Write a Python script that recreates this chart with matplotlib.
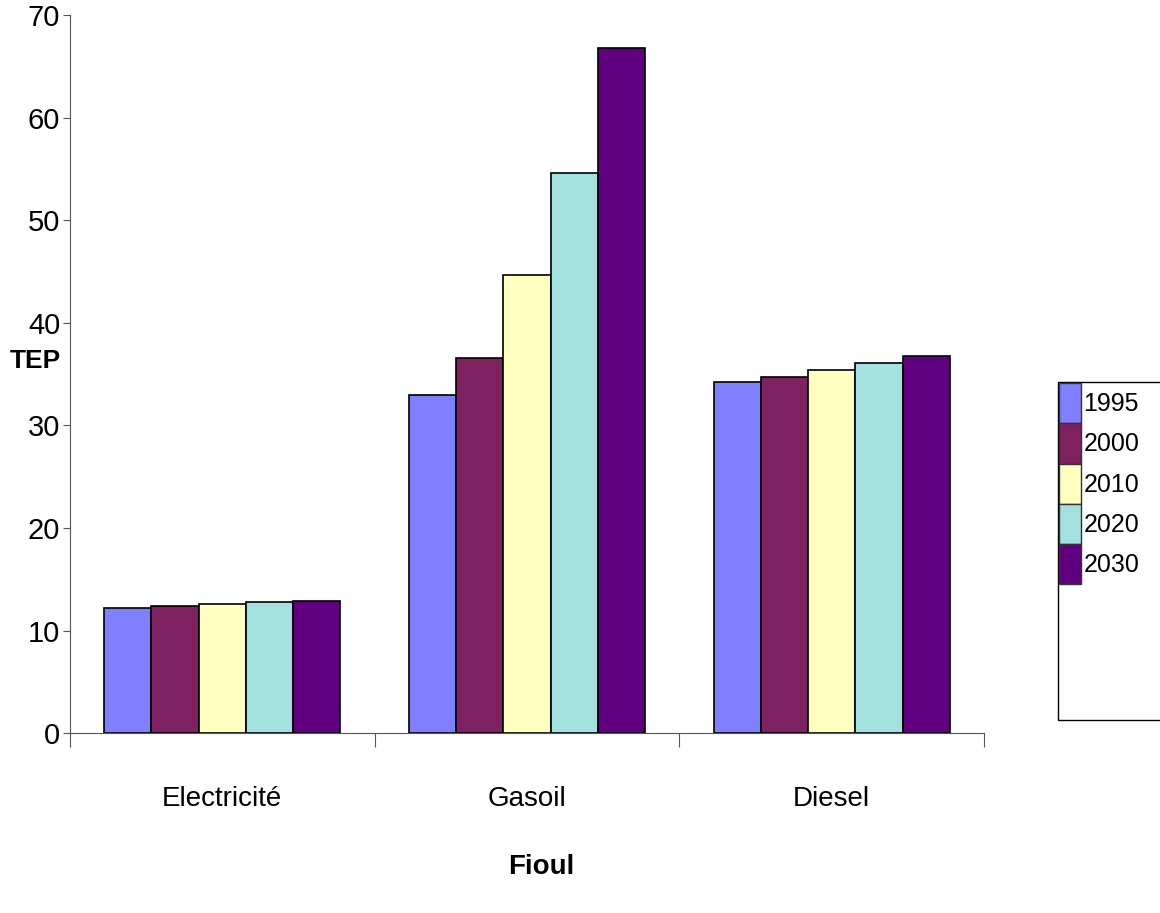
import matplotlib
matplotlib.use("Agg")
import matplotlib.pyplot as plt
import numpy as np
from matplotlib.patches import Rectangle

plt.rcParams['font.family'] = ['Liberation Sans Narrow', 'Liberation Sans', 'DejaVu Sans']

categories = ['Electricité', 'Gasoil', 'Diesel']
years = ['1995', '2000', '2010', '2020', '2030']
values = {
    '1995': [12.2, 33.0, 34.2],
    '2000': [12.4, 36.6, 34.7],
    '2010': [12.6, 44.7, 35.4],
    '2020': [12.8, 54.6, 36.1],
    '2030': [12.9, 66.8, 36.8],
}
colors = ['#8080FF', '#7F2060', '#FFFFC0', '#A3E0E0', '#600080']

fig = plt.figure(figsize=(11.6, 9.13), dpi=100)
ax = fig.add_axes([0.0603, 0.197, 0.788, 0.7866])

x = np.arange(len(categories))
w = 0.155
for i, yr in enumerate(years):
    ax.bar(x + (i - 2) * w, values[yr], w, color=colors[i],
           edgecolor='black', linewidth=1.2, label=yr)

ax.set_xlim(-0.5, 2.5)
ax.set_ylim(0, 70)
ax.set_yticks(range(0, 71, 10))
ax.tick_params(axis='y', labelsize=21, length=5, color='#555555', pad=2)

# separators between groups as major ticks, labels on minor ticks
ax.set_xticks([-0.5, 0.5, 1.5, 2.5])
ax.set_xticklabels([])
ax.set_xticks(x, minor=True)
ax.set_xticklabels(categories, minor=True)
ax.tick_params(axis='x', which='major', length=10, direction='out', color='#555555')
ax.tick_params(axis='x', which='minor', length=0, labelsize=20, pad=38)

for s in ['top', 'right']:
    ax.spines[s].set_visible(False)
for s in ['left', 'bottom']:
    ax.spines[s].set_color('#555555')

fig.text(0.008, 0.605, 'TEP', fontsize=19, fontweight='bold', ha='left', va='center')
fig.text(0.467, 0.05, 'Fioul', fontsize=20, fontweight='bold', ha='center', va='center')

leg = fig.legend(loc='upper left', bbox_to_anchor=(0.902, 0.594), frameon=False,
                 fontsize=18, handlelength=0.9, handleheight=2.1,
                 handletextpad=0.08, labelspacing=0.0, borderpad=0.0)
for h in leg.legend_handles:
    h.set_edgecolor('#333333')
    h.set_linewidth(1)

fig.patches.append(Rectangle((0.912, 1 - 720 / 913), 0.2, (720 - 382) / 913,
                             transform=fig.transFigure, fill=False,
                             edgecolor='black', linewidth=1))

fig.savefig('out.png', dpi=100)
